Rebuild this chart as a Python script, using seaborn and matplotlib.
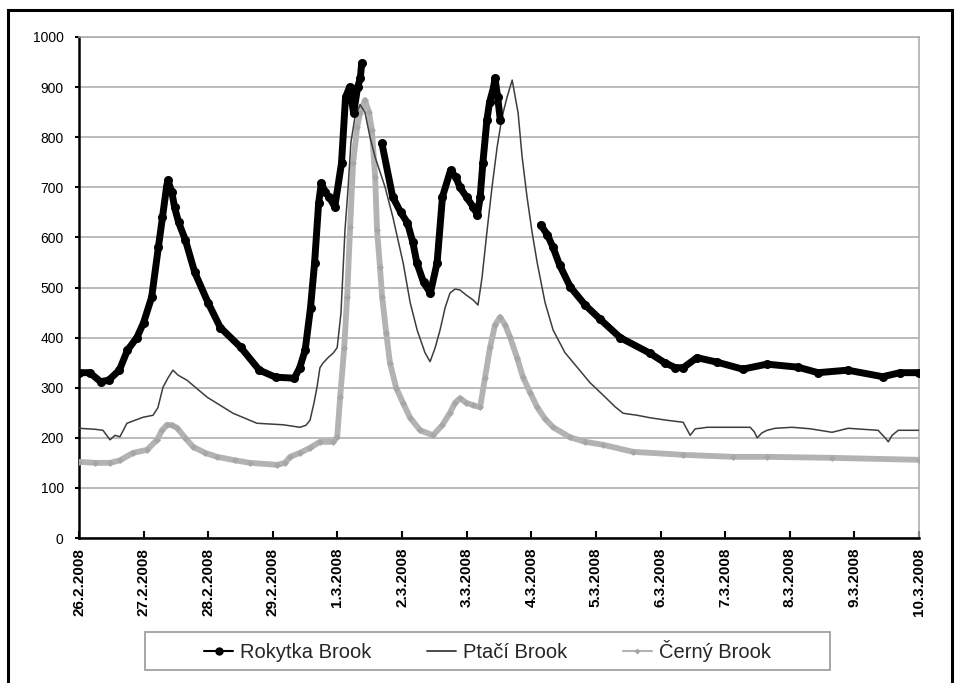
import numpy as np
import pandas as pd
import matplotlib
matplotlib.use("Agg")
import matplotlib.pyplot as plt
import seaborn as sns
from matplotlib.lines import Line2D
from matplotlib.patches import Rectangle

# ---------------- data (hours since 26.2.2008 00:00) ----------------
day_labels = ["26.2.2008", "27.2.2008", "28.2.2008", "29.2.2008", "1.3.2008",
              "2.3.2008", "3.3.2008", "4.3.2008", "5.3.2008", "6.3.2008",
              "7.3.2008", "8.3.2008", "9.3.2008", "10.3.2008"]
y_ticks = [0, 100, 200, 300, 400, 500, 600, 700, 800, 900, 1000]

series_names = ["Rokytka Brook", "Ptačí Brook", "Černý Brook"]

# NaN marks a gap in the record
rokytka_h = [0, 4, 8, 11, 15, 18, 21.5, 24, 27, 29.5, 31, 32.5, 33, 34.5, 35.5, 37,
             39.5, 43, 48, 52.5, 60, 67, 73, 80, 82, 84, 86, 87.5, 89, 90, 91.5,
             93, 95, 97.5, 99, 100.5, 102, 103.5, 104.5, 105, np.nan,
             112.5, 116.5, 119.5, 122, 124, 125.5, 128, 130.5, 133, 135, 138, 140,
             141.5, 144, 146.5, 148, 149, 150, 151.5, 152.5, 154, 154.5, 155.5,
             156.5, np.nan,
             171.5, 174, 176, 178.5, 182.5, 188, 193.5, 201, 212, 217.5, 221.5,
             224.5, 229.5, 237, 246.5, 255.5, 267, 274.5, 285.5, 298.5, 305, 312]
rokytka_v = [330, 330, 312, 315, 335, 375, 400, 430, 481, 581, 640, 700, 714, 690, 660, 630,
             595, 530, 469, 420, 381, 335, 321, 319, 340, 375, 460, 549, 668, 708, 690,
             680, 661, 748, 880, 900, 848, 900, 918, 948, np.nan,
             788, 681, 650, 629, 590, 549, 510, 489, 549, 681, 734, 720,
             700, 680, 660, 645, 680, 748, 834, 870, 900, 918, 880,
             834, np.nan,
             625, 605, 581, 545, 501, 465, 437, 400, 369, 350, 340,
             340, 360, 351, 337, 347, 341, 330, 335, 322, 330, 330]

ptaci_h = [0, 5.9, 8.9, 11.5, 13.4, 15.2, 17.8, 20.8, 23.8, 27.5, 29.3, 31.2, 33.1,
           34.9, 36.8, 40.1, 47.6, 57.2, 66.1, 75.8, 82.1, 84.3, 85.8, 87.3, 88.4,
           89.5, 90.6, 92.5, 94.4, 95.9, 97.3, 98.8, 99.9, 101, 102.5, 104.4, 106.2,
           108.1, 110, 113.7, 116.6, 120.4, 123, 125.6, 128.5, 130.4, 132.3, 134.1,
           136, 137.8, 139.7, 141.5, 143.8, 146.4, 148.2, 149.7, 151.6, 153.4, 155.3,
           157.1, 159, 160.9, 163.1, 164.6, 166.4, 168.3, 170.2, 173.1, 176.1, 180.5,
           185, 189.8, 194.7, 199.1, 202.1, 207.3, 212.1, 218.4, 224.4, 226.3, 227,
           228.9, 230.8, 233.3, 243, 249.3, 250.8, 251.9, 253.7, 255.6, 258.6, 264.9,
           271.6, 279.7, 285.7, 293.9, 296.8, 299.4, 300.6, 302, 304.3, 312]
ptaci_v = [219, 217, 215, 196, 205, 202, 229, 235, 241, 245, 260, 301, 320,
           335, 325, 315, 281, 249, 229, 226, 221, 225, 235, 270, 301,
           340, 349, 360, 369, 380, 449, 615, 695, 790, 840, 865, 850,
           800, 760, 700, 640, 549, 470, 415, 370, 352, 380, 415,
           460, 489, 497, 495, 485, 475, 465, 520, 615, 700, 780,
           840, 880, 914, 848, 760, 681, 610, 549, 470, 415, 370,
           341, 310, 285, 262, 249, 245, 240, 235, 231, 212, 205,
           218, 219, 221, 221, 221, 212, 200, 210, 215, 219, 221,
           218, 211, 219, 216, 215, 200, 192, 205, 215, 215]

cerny_h = [0, 5.9, 11.5, 15.2, 20.1, 25.3, 29, 30.8, 32.7, 34.6, 36.4, 39.4, 42.4,
           46.8, 51.3, 58, 63.5, 73.6, 76.5, 78.4, 82.1, 85.8, 89.5, 94.4, 95.9, 97,
           98.5, 99.6, 100.7, 101.8, 103.3, 104.4, 106.2, 107.7, 108.8, 110, 110.7,
           111.8, 112.6, 114.1, 115.5, 117.8, 120.4, 123, 126.7, 131.5, 134.9, 137.8,
           139.7, 141.5, 143.8, 146.4, 149, 150.8, 152.7, 154.5, 156.4, 158.3, 160.1,
           162.7, 164.9, 167.6, 170.2, 173.1, 176.1, 182.4, 188, 194.7, 205.8, 224.4,
           243, 255.6, 279.7, 312]
cerny_v = [152, 150, 150, 155, 170, 176, 196, 215, 226, 225, 220, 200, 182,
           170, 162, 155, 150, 146, 150, 162, 170, 180, 192, 192, 202, 281,
           380, 481, 620, 748, 820, 848, 874, 850, 814, 720, 615,
           540, 481, 410, 349, 300, 269, 240, 215, 205, 225, 250,
           270, 279, 270, 265, 261, 320, 381, 425, 441, 425, 401,
           360, 321, 290, 261, 238, 221, 201, 192, 186, 172, 166,
           162, 162, 160, 156]

# ---------------- styling ----------------
sns.set_theme(style="white")
plt.rcParams['font.family'] = ['Liberation Sans', 'DejaVu Sans']

W, H = 955, 683
fig = plt.figure(figsize=(W / 100, H / 100), dpi=100)
ax = fig.add_axes([79 / W, 145 / H, 840 / W, 501 / H])

c_rok, c_pta, c_cer = "#000000", "#3d3d3d", "#b3b3b3"

# Rokytka: split at gaps
rok = pd.DataFrame({"h": rokytka_h, "v": rokytka_v})
rok["seg"] = rok["h"].isna().cumsum()
rok = rok.dropna()
pta = pd.DataFrame({"h": ptaci_h, "v": ptaci_v})
cer = pd.DataFrame({"h": cerny_h, "v": cerny_v})

sns.lineplot(data=cer, x="h", y="v", ax=ax, color=c_cer, lw=4.2, marker="D",
             markersize=3.5, markeredgewidth=0, markerfacecolor="#a6a6a6", zorder=3)
sns.lineplot(data=pta, x="h", y="v", ax=ax, color=c_pta, lw=1.1, zorder=4)
sns.lineplot(data=rok, x="h", y="v", units="seg", estimator=None, ax=ax,
             color=c_rok, lw=5.0, marker="o", markersize=6.5, markeredgewidth=0,
             zorder=5)

ax.set_xlim(0, 24 * (len(day_labels) - 1))
ax.set_ylim(0, 1000)
ax.set_xticks([24 * i for i in range(len(day_labels))])
ax.set_xticklabels(day_labels, rotation=90, fontsize=11, fontweight="bold")
ax.set_yticks(y_ticks)
ax.set_yticklabels([str(t) for t in y_ticks], fontsize=10)
ax.set_xlabel("")
ax.set_ylabel("")

ax.yaxis.grid(True, color="#a8a8a8", lw=1.1)
ax.xaxis.grid(False)
ax.set_axisbelow(True)
for s in ["top", "right"]:
    ax.spines[s].set_color("#a8a8a8")
    ax.spines[s].set_linewidth(1.1)
for s in ["left", "bottom"]:
    ax.spines[s].set_color("black")
    ax.spines[s].set_linewidth(1.8)
ax.tick_params(axis="x", direction="in", length=5, width=1.5, pad=7, colors="black",
               bottom=True)
ax.tick_params(axis="y", direction="out", length=3, width=1.5, pad=8, colors="black",
               left=True)

# outer frame
fig.patches.append(Rectangle((8 / W, -0.05), (952 - 8) / W, (683 - 10) / H + 0.05,
                             transform=fig.transFigure, fill=False,
                             edgecolor="black", lw=2.2, clip_on=False))
# legend frame
fig.patches.append(Rectangle((145 / W, 13 / H), 685 / W, 38 / H,
                             transform=fig.transFigure, fill=False,
                             edgecolor="#a0a0a0", lw=1.3))

handles = [
    Line2D([], [], color=c_rok, lw=1.5, marker="o", markersize=5),
    Line2D([], [], color=c_pta, lw=1.3),
    Line2D([], [], color=c_cer, lw=1.5, marker="D", markersize=3,
           markerfacecolor="#a6a6a6", markeredgewidth=0),
]
fig.legend(handles, series_names, loc="center", bbox_to_anchor=(487.5 / W, 32 / H),
           ncol=3, frameon=False, fontsize=14.5, handlelength=1.4,
           handletextpad=0.35, columnspacing=2.8)

fig.savefig("out.png", dpi=100)
